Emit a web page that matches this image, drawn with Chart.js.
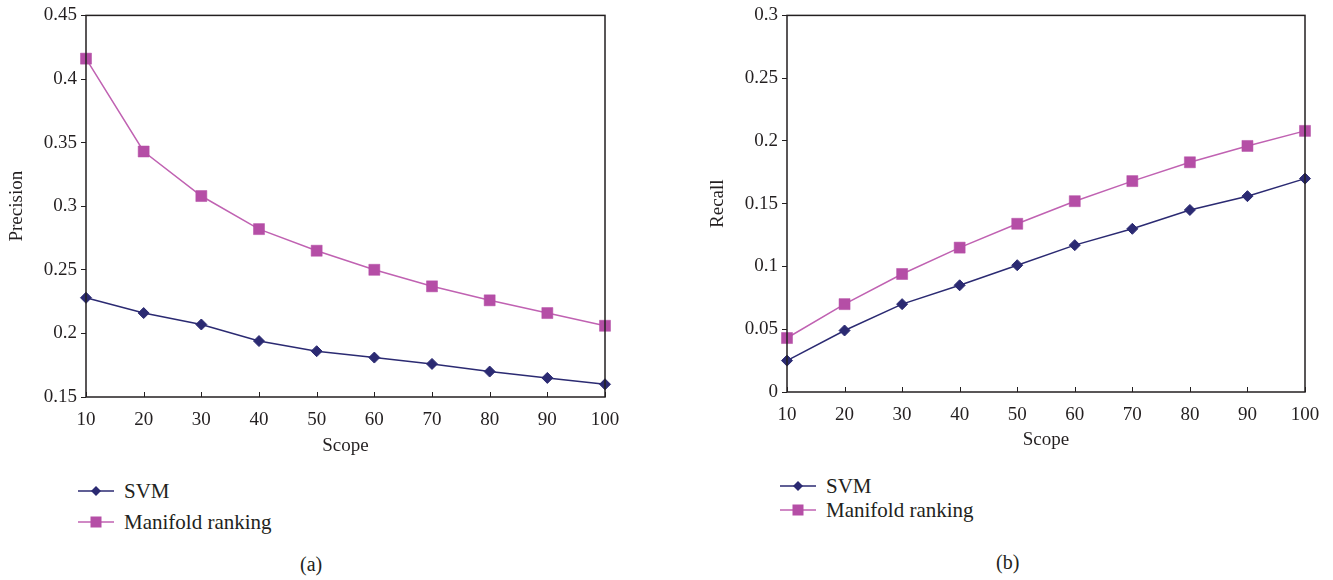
<!DOCTYPE html>
<html lang="en">
<head>
    <meta charset="UTF-8">
    <title>Precision / Recall vs Scope</title>
    <script src="https://cdn.jsdelivr.net/npm/chart.js"></script>
    <style>
        body { margin: 0; background: #fff; width: 1333px; height: 580px; position: relative; overflow: hidden;
               font-family: "Liberation Serif", serif; color: #231f20; }
        .box { position: absolute; }
        .legend { position: absolute; font-size: 21px; line-height: 1; }
        .legend div { display: flex; align-items: center; height: 24px; }
        .legend svg { margin-right: 10px; }
        .cap { position: absolute; font-size: 20px; }
    </style>
</head>
<body>
    <div class="box" style="left:0;top:0;width:630px;height:465px"><canvas id="chartA"></canvas></div>
    <div class="box" style="left:700px;top:0;width:630px;height:465px"><canvas id="chartB"></canvas></div>

    <div class="legend" style="left:78px;top:479px">
        <div style="margin-bottom:7px"><svg width="36" height="14"><line x1="0" y1="7" x2="36" y2="7" stroke="#2b2a72" stroke-width="1.5"/><polygon points="18,2 23,7 18,12 13,7" fill="#2b2a72"/></svg>SVM</div>
        <div><svg width="36" height="14"><line x1="0" y1="7" x2="36" y2="7" stroke="#c062b2" stroke-width="1.5"/><rect x="12.5" y="1.5" width="11" height="11" fill="#b54ea6"/></svg>Manifold ranking</div>
    </div>
    <div class="legend" style="left:780px;top:474px">
        <div><svg width="36" height="14"><line x1="0" y1="7" x2="36" y2="7" stroke="#2b2a72" stroke-width="1.5"/><polygon points="18,2 23,7 18,12 13,7" fill="#2b2a72"/></svg>SVM</div>
        <div><svg width="36" height="14"><line x1="0" y1="7" x2="36" y2="7" stroke="#c062b2" stroke-width="1.5"/><rect x="12.5" y="1.5" width="11" height="11" fill="#b54ea6"/></svg>Manifold ranking</div>
    </div>
    <div class="cap" style="left:300px;top:553px">(a)</div>
    <div class="cap" style="left:996px;top:551px">(b)</div>

    <script>
        // Data
        const scope = ['10', '20', '30', '40', '50', '60', '70', '80', '90', '100'];
        const precisionSVM = [0.228, 0.216, 0.207, 0.194, 0.186, 0.181, 0.176, 0.170, 0.165, 0.160];
        const precisionMR = [0.416, 0.343, 0.308, 0.282, 0.265, 0.250, 0.237, 0.226, 0.216, 0.206];
        const recallSVM = [0.025, 0.049, 0.070, 0.085, 0.101, 0.117, 0.130, 0.145, 0.156, 0.170];
        const recallMR = [0.043, 0.070, 0.094, 0.115, 0.134, 0.152, 0.168, 0.183, 0.196, 0.208];

        const ink = '#231f20';
        const font = { family: '"Liberation Serif", serif', size: 19 };

        // box around the plot + x ticks pointing inwards
        const frame = {
            id: 'frame',
            afterDatasetsDraw(chart) {
                const { ctx, chartArea: a, scales: { x } } = chart;
                ctx.save();
                ctx.strokeStyle = ink;
                ctx.lineWidth = 1.5;
                ctx.strokeRect(a.left, a.top, a.right - a.left, a.bottom - a.top);
                ctx.beginPath();
                x.ticks.forEach((t, i) => {
                    const px = Math.round(x.getPixelForTick(i)) + 0.5;
                    ctx.moveTo(px, a.bottom);
                    ctx.lineTo(px, a.bottom - 5);
                });
                ctx.lineWidth = 1;
                ctx.stroke();
                ctx.restore();
            }
        };

        function makeChart(id, svm, mr, yTitle, ymin, ymax, box) {
            new Chart(document.getElementById(id), {
                type: 'line',
                data: {
                    labels: scope,
                    datasets: [{
                        label: 'SVM',
                        data: svm,
                        borderColor: '#2b2a72',
                        backgroundColor: '#2b2a72',
                        borderWidth: 1.5,
                        pointStyle: 'rectRot',
                        pointRadius: 5.5,
                        pointBorderWidth: 1,
                        tension: 0,
                        clip: false
                    }, {
                        label: 'Manifold ranking',
                        data: mr,
                        borderColor: '#c062b2',
                        backgroundColor: '#b54ea6',
                        pointBorderColor: '#b54ea6',
                        borderWidth: 1.5,
                        pointStyle: 'rect',
                        pointRadius: 7.8,
                        pointBorderWidth: 0.5,
                        tension: 0,
                        clip: false
                    }]
                },
                options: {
                    responsive: true,
                    maintainAspectRatio: false,
                    animation: false,
                    layout: { padding: { top: box.top, right: box.right, left: 0, bottom: 0 } },
                    plugins: { legend: { display: false }, tooltip: { enabled: false } },
                    scales: {
                        x: {
                            grid: { display: false },
                            border: { display: false },
                            ticks: { color: ink, font: font, padding: 4, maxRotation: 0, autoSkip: false },
                            title: { display: true, text: 'Scope', color: ink, font: font, padding: { top: 0, bottom: box.titleB } },
                            afterFit: s => { s.height = box.xh; }
                        },
                        y: {
                            min: ymin,
                            max: ymax,
                            grid: { drawOnChartArea: false, tickLength: 5, color: ink },
                            border: { display: false },
                            ticks: { color: ink, font: font, padding: 4, stepSize: 0.05,
                                     callback: v => String(+v.toFixed(2)) },
                            title: { display: true, text: yTitle, color: ink, font: font, padding: { top: box.titleL, bottom: 0 } },
                            afterFit: s => { s.width = box.yw; }
                        }
                    }
                },
                plugins: [frame]
            });
        }

        makeChart('chartA', precisionSVM, precisionMR, 'Precision', 0.15, 0.45,
                  { top: 14, right: 25, xh: 68, yw: 86, titleB: 8, titleL: 6 });
        makeChart('chartB', recallSVM, recallMR, 'Recall', 0, 0.3,
                  { top: 11, right: 25, xh: 73, yw: 87, titleB: 14, titleL: 7 });
    </script>
</body>
</html>
